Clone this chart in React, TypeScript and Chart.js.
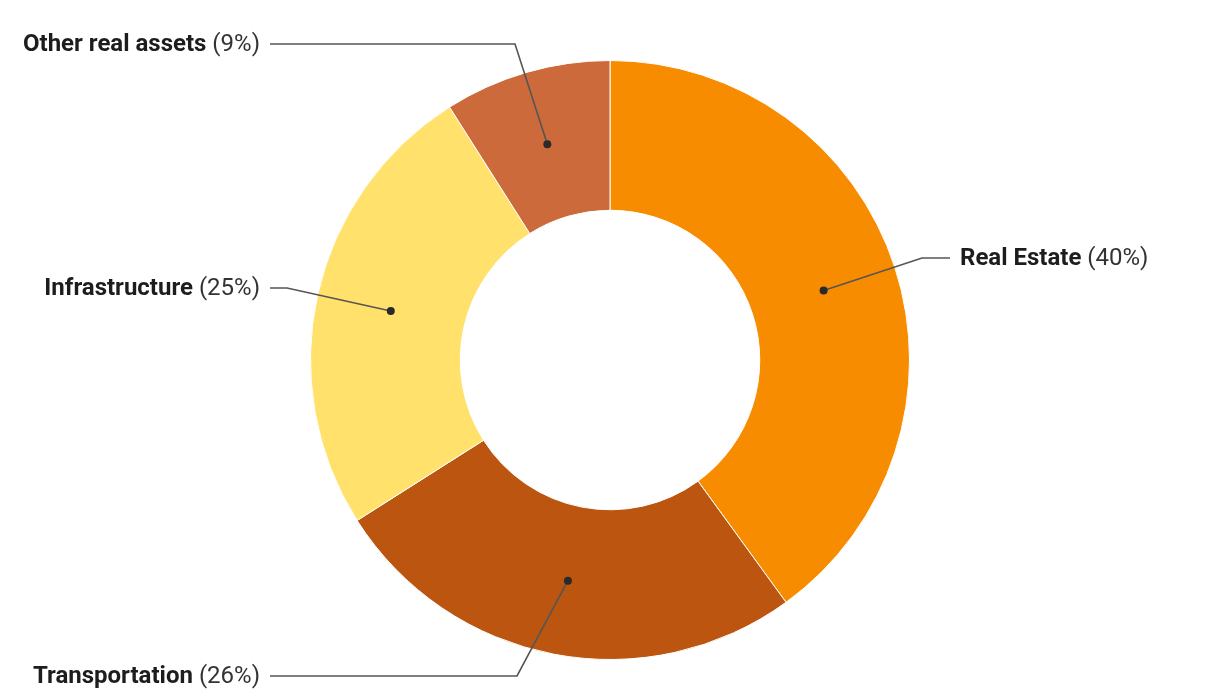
import React, { useEffect, useRef } from "react";
import { Chart, registerables } from "chart.js";

Chart.register(...registerables);

const categories = ["Real Estate", "Transportation", "Infrastructure", "Other real assets"];
const shares = [40, 26, 25, 9];
const colors = ["#F78C00", "#BB5510", "#FFE16B", "#CC6A3C"];

// label layout (annotation positions, not marks)
const labelLayout = [
  { side: "right", y: 258, elbowX: 922, textX: 960 },
  { side: "left", y: 676, elbowX: 517, textX: 260 },
  { side: "left", y: 288, elbowX: 287, textX: 260 },
  { side: "left", y: 44, elbowX: 515, textX: 260 },
];

const leaderPlugin = {
  id: "leaders",
  afterDraw(chart: any) {
    const ctx = chart.ctx;
    const meta = chart.getDatasetMeta(0);
    const total = shares.reduce((a, b) => a + b, 0);
    meta.data.forEach((arc: any, i: number) => {
      const p = arc.getProps(["x", "y", "startAngle", "endAngle", "innerRadius", "outerRadius"], true);
      const mid = (p.startAngle + p.endAngle) / 2;
      const r = (p.innerRadius + p.outerRadius) / 2;
      const dx = p.x + Math.cos(mid) * r;
      const dy = p.y + Math.sin(mid) * r;
      const L = labelLayout[i];
      const lineEndX = L.side === "right" ? L.textX - 10 : L.textX + 10;
      ctx.save();
      ctx.strokeStyle = "#555555";
      ctx.lineWidth = 1.6;
      ctx.beginPath();
      ctx.moveTo(dx, dy);
      ctx.lineTo(L.elbowX, L.y);
      ctx.lineTo(lineEndX, L.y);
      ctx.stroke();
      ctx.fillStyle = "#2a2a2a";
      ctx.beginPath();
      ctx.arc(dx, dy, 4, 0, Math.PI * 2);
      ctx.fill();

      const name = categories[i];
      const pct = " (" + Math.round((shares[i] / total) * 100) + "%)";
      const boldFont = "bold 24px Roboto";
      const regFont = "24px Roboto";
      ctx.textBaseline = "middle";
      ctx.fillStyle = "#1d1d1d";
      ctx.font = boldFont;
      const wName = ctx.measureText(name).width;
      ctx.font = regFont;
      const wPct = ctx.measureText(pct).width;
      const startX = L.side === "right" ? L.textX : L.textX - wName - wPct;
      ctx.textAlign = "left";
      ctx.font = boldFont;
      ctx.fillText(name, startX, L.y + 1);
      ctx.font = regFont;
      ctx.fillStyle = "#333333";
      ctx.fillText(pct, startX + wName, L.y + 1);
      ctx.restore();
    });
  },
};

export default function App() {
  const ref = useRef<HTMLCanvasElement | null>(null);
  useEffect(() => {
    document.body.style.margin = "0";
    const chart = new Chart(ref.current as HTMLCanvasElement, {
      type: "doughnut",
      data: {
        labels: categories,
        datasets: [
          {
            data: shares,
            backgroundColor: colors,
            borderColor: "#ffffff",
            borderWidth: 1,
          },
        ],
      },
      options: {
        animation: false,
        responsive: false,
        cutout: "50%",
        layout: { padding: { top: 60, bottom: 40, left: 0, right: 0 } },
        plugins: {
          legend: { display: false },
          tooltip: { enabled: false },
        },
      },
      plugins: [leaderPlugin],
    });
    return () => chart.destroy();
  }, []);
  return (
    <div style={{ width: 1220, height: 700 }}>
      <canvas ref={ref} width={1220} height={700} style={{ display: "block" }} />
    </div>
  );
}
